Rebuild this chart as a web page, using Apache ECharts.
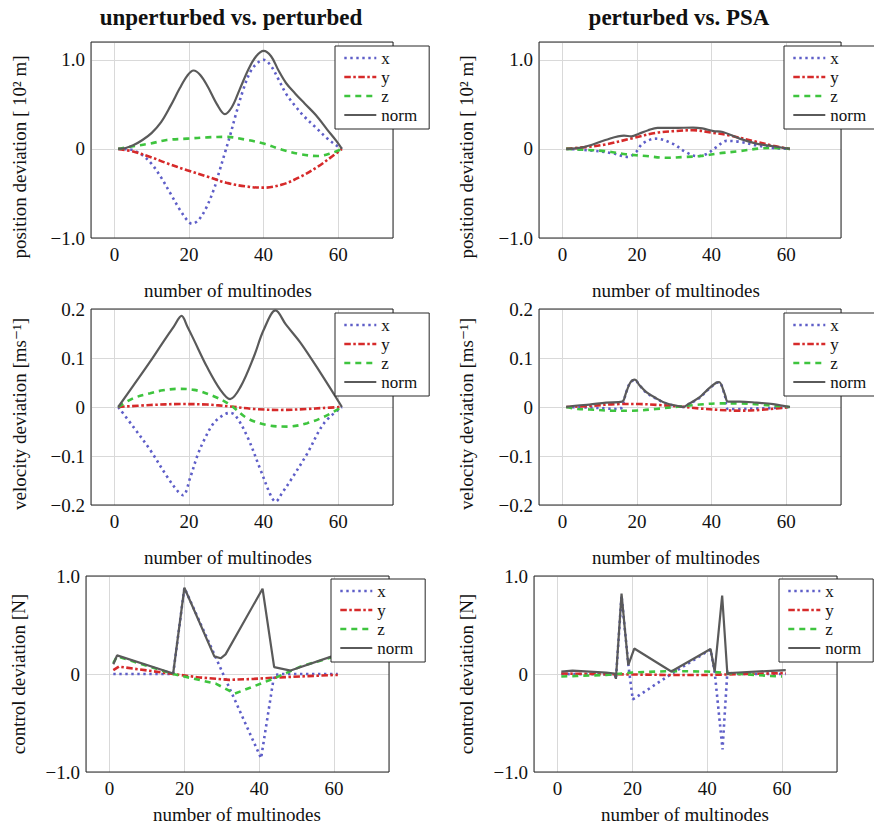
<!DOCTYPE html>
<html>
<head>
<meta charset="utf-8">
<script src="https://cdn.jsdelivr.net/npm/echarts@6/dist/echarts.min.js"></script>
<style>
  html, body { margin: 0; padding: 0; background: #fff; }
  #chart { width: 874px; height: 825px; }
</style>
</head>
<body>
<div id="chart"></div>
<script>
// Deviation per multinode, one list of [node, value] pairs per component.

// position deviation, unperturbed vs. perturbed [10^2 m]
const posUnpX = [[1,0],[3,-0.003],[5,-0.015],[7.5,-0.07],[10,-0.17],[12.5,-0.32],[15,-0.5],[17.5,-0.68],[19.5,-0.8],[20.8,-0.84],[22.5,-0.8],[24.5,-0.67],[26.6,-0.46],[28,-0.27],[29.5,-0.06],[31,0.15],[32.5,0.38],[34.5,0.66],[36.5,0.87],[38.5,0.97],[40,1.0],[42,0.93],[44,0.78],[46,0.62],[48.5,0.48],[51,0.36],[54,0.24],[57,0.12],[59.5,0.04],[61,0]];
const posUnpY = [[1,0],[5,-0.03],[9.6,-0.09],[14,-0.16],[19.5,-0.24],[24.8,-0.31],[30,-0.38],[35,-0.42],[40,-0.435],[45,-0.4],[50,-0.31],[54.5,-0.2],[58.5,-0.08],[61,0]];
const posUnpZ = [[1,0],[5,0.03],[9.6,0.06],[14,0.1],[19.5,0.115],[25,0.13],[30,0.135],[35,0.105],[40,0.06],[45,-0.01],[50,-0.06],[54.5,-0.08],[58,-0.05],[61,0]];
const posUnpNorm = [[1,0],[3,0.01],[5,0.04],[7.5,0.1],[10,0.18],[12.5,0.3],[15,0.48],[17.5,0.68],[19.5,0.82],[21.2,0.88],[23,0.83],[25,0.7],[27.5,0.5],[29.6,0.39],[31.5,0.47],[33.5,0.66],[36,0.9],[38,1.04],[40,1.1],[42,1.04],[44,0.88],[46,0.74],[48.5,0.62],[51,0.51],[54,0.38],[57,0.22],[59.5,0.09],[61,0]];

// position deviation, perturbed vs. PSA [10^2 m]
const posPsaX = [[1,0],[7,-0.015],[13.5,-0.05],[17.5,-0.09],[19.7,-0.035],[21.5,0.06],[25,0.115],[29.5,0.06],[33,-0.035],[36,-0.08],[38.5,-0.06],[41.3,0.02],[44,0.09],[47.5,0.08],[52,0.04],[56.5,0.01],[61,0]];
const posPsaY = [[1,0],[6,0.02],[11.5,0.05],[18.8,0.12],[25,0.18],[30,0.2],[35,0.21],[40.5,0.18],[45,0.15],[52,0.08],[56.5,0.035],[61,0]];
const posPsaZ = [[1,0],[6,-0.01],[11.5,-0.025],[17,-0.06],[22.5,-0.08],[28,-0.1],[33,-0.09],[37,-0.08],[42,-0.05],[47.5,-0.025],[53,0.005],[56.5,0.01],[61,0]];
const posPsaNorm = [[1,0],[4,0.008],[7,0.035],[11.5,0.1],[16.5,0.15],[18.5,0.14],[20.5,0.17],[23,0.21],[25.5,0.235],[30,0.235],[35,0.24],[37.5,0.23],[40.5,0.2],[43,0.19],[47.5,0.115],[52,0.06],[56.5,0.03],[61,0]];

// velocity deviation, unperturbed vs. perturbed [m/s]
const velUnpX = [[1,0],[5,-0.04],[9.6,-0.088],[14.1,-0.142],[17,-0.172],[18.4,-0.18],[20.4,-0.142],[22.2,-0.1],[24,-0.068],[26.6,-0.033],[29.3,-0.016],[31,-0.012],[32.5,-0.018],[35.6,-0.06],[39.2,-0.129],[42,-0.182],[43.2,-0.193],[45,-0.175],[47.3,-0.149],[51.7,-0.095],[56.2,-0.033],[61,0]];
const velUnpY = [[1,0],[9.6,0.004],[17.7,0.006],[24.8,0.005],[31.1,0.001],[37.4,-0.004],[44.6,-0.006],[51.7,-0.004],[56,-0.002],[61,0]];
const velUnpZ = [[1,0],[5.1,0.018],[9.6,0.028],[13,0.034],[16.8,0.037],[21.3,0.035],[26.6,0.022],[31.1,0.004],[35.6,-0.023],[41,-0.037],[46.4,-0.04],[51.7,-0.033],[56.2,-0.02],[61,0]];
const velUnpNorm = [[1,0],[5,0.043],[9.6,0.093],[13,0.132],[15.9,0.164],[18,0.186],[19.5,0.165],[21.3,0.137],[24.8,0.082],[28.4,0.035],[31,0.016],[33.8,0.041],[37.4,0.103],[40,0.157],[43.2,0.197],[46,0.168],[50,0.13],[55.3,0.069],[61,0]];

// velocity deviation, perturbed vs. PSA [m/s]
const velPsaX = [[1,0],[7,-0.001],[11.7,-0.003],[15.2,-0.004],[16,0],[17,0.028],[18.2,0.05],[19.4,0.055],[20.6,0.045],[22.4,0.03],[25.1,0.017],[27.8,0.007],[31,0.001],[32.3,0],[34,0.006],[36.8,0.019],[39,0.035],[41.3,0.049],[42,0.05],[43.5,0.025],[44.4,-0.004],[47.5,-0.004],[52,-0.003],[56.5,-0.002],[61,0]];
const velPsaY = [[1,0],[7.2,0.002],[15.2,0.006],[20.6,0.006],[26,0.004],[31.4,0.001],[36.8,-0.003],[42.2,-0.006],[47.5,-0.0075],[52.9,-0.006],[57.4,-0.003],[61,0]];
const velPsaZ = [[1,0],[4.1,-0.004],[7.2,-0.005],[13.5,-0.0075],[18.8,-0.0075],[25.1,-0.004],[31.4,0.001],[36.8,0.005],[42.2,0.0075],[47.5,0.0075],[52.9,0.005],[57.4,0.002],[61,0]];
const velPsaNorm = [[1,0],[4,0.003],[7.2,0.005],[11.7,0.009],[16,0.011],[17,0.028],[18.2,0.05],[19.4,0.056],[20.6,0.045],[22.4,0.031],[25.1,0.018],[27.8,0.0075],[31,0.002],[32.3,0],[34,0.007],[36.8,0.02],[39,0.036],[41.3,0.05],[42,0.051],[43.5,0.027],[44.4,0.011],[47.5,0.011],[52,0.009],[56.5,0.006],[61,0]];

// control deviation, unperturbed vs. perturbed [N]
const ctlUnpX = [[1,0],[17,0],[20,0.88],[40.5,-0.86],[44,-0.01],[46,0],[61,0]];
const ctlUnpY = [[1,0.04],[2.5,0.075],[17,0],[24,-0.035],[32,-0.06],[38.6,-0.05],[45,-0.035],[60,-0.01],[61,-0.01]];
const ctlUnpZ = [[1,0.11],[2,0.18],[17,0],[28.5,-0.1],[33.5,-0.2],[44,-0.045],[48.4,0.03],[51,0.075],[61,0.19]];
const ctlUnpNorm = [[1,0.1],[2,0.19],[17,0.005],[20,0.88],[28,0.18],[29.7,0.16],[31,0.2],[40.9,0.87],[44,0.07],[48.4,0.035],[61,0.2]];

// control deviation, perturbed vs. PSA [N]
const ctlPsaX = [[1,0],[15.3,-0.005],[15.6,-0.05],[17.1,0.8],[18.9,0.1],[20.1,-0.26],[30.4,0],[40.9,0.25],[42,0.02],[44.1,-0.77],[45.4,0.03],[47,0],[61,0]];
const ctlPsaY = [[1,0.005],[10,0],[20,-0.005],[30,-0.01],[40,-0.01],[50,0],[61,0.01]];
const ctlPsaZ = [[1,-0.025],[5,-0.02],[13,-0.01],[20,0.015],[30,0.03],[40,0.025],[49,0],[57,-0.02],[60,-0.025]];
const ctlPsaNorm = [[1,0.025],[4,0.035],[13,0.015],[15.3,0.005],[15.6,-0.05],[17.1,0.82],[18.9,0.09],[20.5,0.26],[30.4,0.025],[40.9,0.255],[42,0.025],[44,0.8],[45.4,-0.005],[46,0.01],[61,0.04]];

const componentNames = ['x', 'y', 'z', 'norm'];
const columnTitles = ['unperturbed vs. perturbed', 'perturbed vs. PSA'];
const rowAxisTitles = ['position deviation [ 10² m]', 'velocity deviation [ms⁻¹]', 'control deviation [N]'];
const xAxisTitle = 'number of multinodes';
const rowRanges = [[-1, 1.2, 1], [-0.2, 0.2, 0.1], [-1, 1, 1]];
const xRange = [-6.3, 74.7];
const xStep = 20;

const panelSeries = [
  [posUnpX, posUnpY, posUnpZ, posUnpNorm],
  [posPsaX, posPsaY, posPsaZ, posPsaNorm],
  [velUnpX, velUnpY, velUnpZ, velUnpNorm],
  [velPsaX, velPsaY, velPsaZ, velPsaNorm],
  [ctlUnpX, ctlUnpY, ctlUnpZ, ctlUnpNorm],
  [ctlPsaX, ctlPsaY, ctlPsaZ, ctlPsaNorm]
];
const panelSmooth = [true, true, true, true, false, false];

// layout of the 3x2 panel figure
const layout = [
  { grid: [91, 42, 302, 196],  legend: [335, 46],  yTitle: [19, 157],  xTitle: [228, 290] },
  { grid: [539, 42, 302, 196], legend: [784, 46],  yTitle: [466, 157], xTitle: [676, 290] },
  { grid: [91, 309, 302, 196], legend: [335, 313], yTitle: [19, 414],  xTitle: [228, 557] },
  { grid: [539, 309, 302, 196],legend: [784, 313], yTitle: [466, 414], xTitle: [676, 557] },
  { grid: [86, 576, 303, 196], legend: [331, 579], yTitle: [18, 674],  xTitle: [237, 814] },
  { grid: [534, 576, 303, 196],legend: [779, 579], yTitle: [466, 674], xTitle: [685, 814] }
];
const columnTitlePos = [[231, 17], [679, 17]];

const FONT = "'Liberation Serif', 'DejaVu Serif', serif";
const lineStyles = {
  x:    { color: '#5e5ec8', width: 2.6, type: [2.4, 3.6] },
  y:    { color: '#d62a2a', width: 2.6, type: [6.5, 2.5, 2.5, 2.5] },
  z:    { color: '#3ec43e', width: 2.6, type: [6, 5] },
  norm: { color: '#5a5a5a', width: 2.2, type: 'solid' }
};

function fmtY(v) {
  if (Math.abs(v) < 1e-9) return '0';
  return (v < 0 ? '\u2212' : '') + Math.abs(v).toFixed(1);
}

const grid = [], xAxis = [], yAxis = [], legend = [], series = [], graphic = [];

layout.forEach((p, i) => {
  const row = Math.floor(i / 2);
  const [ymin, ymax, ystep] = rowRanges[row];
  grid.push({
    left: p.grid[0], top: p.grid[1], width: p.grid[2], height: p.grid[3],
    show: true, z: 3, backgroundColor: 'transparent',
    borderColor: '#262626', borderWidth: 1
  });
  xAxis.push({
    type: 'value', gridIndex: i, min: xRange[0], max: xRange[1], splitNumber: 4,
    axisLine: { show: false }, axisTick: { show: false },
    splitLine: { show: true, lineStyle: { color: '#d9d9d9', width: 1 } },
    axisLabel: {
      fontFamily: FONT, fontSize: 19, color: '#111', margin: 7,
      formatter: v => (Math.abs(v / xStep - Math.round(v / xStep)) < 1e-6 ? String(Math.round(v)) : '')
    }
  });
  yAxis.push({
    type: 'value', gridIndex: i, min: ymin, max: ymax, interval: ystep,
    axisLine: { show: false }, axisTick: { show: false },
    splitLine: { show: true, lineStyle: { color: '#d9d9d9', width: 1 } },
    axisLabel: {
      fontFamily: FONT, fontSize: 19, color: '#111', margin: 6,
      formatter: v => (Math.abs(v / ystep - Math.round(v / ystep)) < 1e-6 ? fmtY(v) : '')
    }
  });
  legend.push({
    orient: 'vertical', left: p.legend[0], top: p.legend[1],
    data: componentNames.map(n => ({ name: n, lineStyle: Object.assign({}, lineStyles[n]) })),
    itemWidth: 32, itemHeight: 14, itemGap: 2,
    padding: [3.5, 12, 5.5, 8],
    backgroundColor: '#fff', borderColor: '#262626', borderWidth: 1, borderRadius: 0,
    itemStyle: { opacity: 0 },
    textStyle: { fontFamily: FONT, fontSize: 17, color: '#111' },
    selectedMode: false
  });
  panelSeries[i].forEach((data, k) => {
    const name = componentNames[k];
    series.push({
      type: 'line', name, data, xAxisIndex: i, yAxisIndex: i,
      symbol: 'none', showSymbol: false,
      smooth: panelSmooth[i] ? 0.35 : false,
      lineStyle: lineStyles[name],
      itemStyle: { color: lineStyles[name].color },
      emphasis: { disabled: true },
      silent: true, animation: false
    });
  });
  graphic.push({
    type: 'text', x: p.yTitle[0], y: p.yTitle[1], rotation: Math.PI / 2,
    style: { text: rowAxisTitles[row], font: '19px ' + FONT, fill: '#111',
             textAlign: 'center', textVerticalAlign: 'middle', align: 'center', verticalAlign: 'middle' }
  });
  graphic.push({
    type: 'text', x: p.xTitle[0], y: p.xTitle[1],
    style: { text: xAxisTitle, font: '19px ' + FONT, fill: '#111',
             textAlign: 'center', textVerticalAlign: 'middle', align: 'center', verticalAlign: 'middle' }
  });
});

columnTitles.forEach((t, c) => {
  graphic.push({
    type: 'text', x: columnTitlePos[c][0], y: columnTitlePos[c][1],
    style: { text: t, font: 'bold 23px ' + FONT, fill: '#111',
             textAlign: 'center', textVerticalAlign: 'middle', align: 'center', verticalAlign: 'middle' }
  });
});

const chart = echarts.init(document.getElementById('chart'), null, { renderer: 'svg' });
chart.setOption({
  backgroundColor: '#fff',
  animation: false,
  grid, xAxis, yAxis, legend, series, graphic
});
</script>
</body>
</html>
